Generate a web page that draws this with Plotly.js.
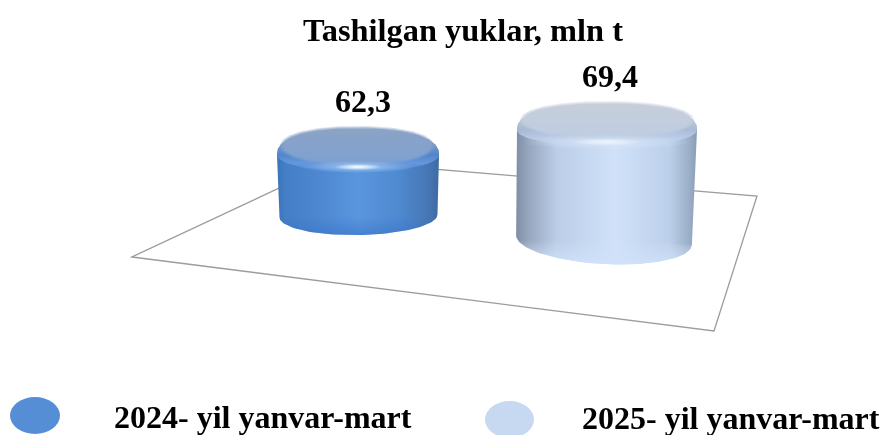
<!DOCTYPE html>
<html><head><meta charset="utf-8">
<script src="https://cdn.plot.ly/plotly-3.0.1.min.js"></script>
<style>html,body{margin:0;padding:0;background:#fff;overflow:hidden}#c{width:881px;height:435px}
.main-svg{filter:blur(0.35px)}</style>
</head><body><div id="c"></div>
<script>
// ---- data ----
const categories = ['2024- yil yanvar-mart', '2025- yil yanvar-mart'];
const values = [62.3, 69.4];
const chartTitle = 'Tashilgan yuklar, mln t';

// ---- scale of the pseudo-3D value axis ----
const FONT = '"Liberation Serif","Times New Roman",serif';
const valueFloor = 52.73, unit = 6.9;

// ---- styling of each cylinder ----
const looks = [
 {cx:358.5, topCx:358, labelX:363, base:216, rxTop:81, ryUp:26, ryDown:17, rxBase:79, ryBase:19, tilt:-1,
  faceCx:357, faceDy:-4, faceRx:73, faceRy:17, hlW:24, hlY:17, hlH:4,
  side:[[0,'#3b73b8'],[.05,'#437ec6'],[.25,'#4c87d0'],[.5,'#5a96de'],[.75,'#4f89d0'],[.93,'#4677b5'],[1,'#3f6aa2']],
  faceTop:'#8ba3c5', faceBottom:'#7ea1d2', bevel:'rgba(104,154,222,.9)', shoulder:'rgba(84,136,206,.85)',
  foot:'rgba(52,112,200,.5)', glow:'rgba(255,255,255,1)', glowSoft:'rgba(170,210,250,.85)'},
 {cx:604, topCx:607, labelX:610, base:240, rxTop:90, ryUp:26, ryDown:17, rxBase:88, ryBase:24, tilt:3.2,
  faceCx:607, faceDy:-5, faceRx:83, faceRy:16, hlW:36, hlY:17, hlH:5,
  side:[[0,'#7f90a8'],[.06,'#94a5bc'],[.22,'#bccde8'],[.55,'#d0e1f9'],[.85,'#bccfea'],[.96,'#9aadc6'],[1,'#8a9cb4']],
  faceTop:'#c6ced9', faceBottom:'#bfcde2', bevel:'rgba(188,205,232,.9)', shoulder:'rgba(172,190,218,.85)',
  foot:'rgba(208,225,249,.9)', glow:'rgba(236,244,255,1)', glowSoft:'rgba(222,234,250,.75)'}
];

// elliptical / super-elliptical arc, exponent 2 is a plain ellipse
function arc(cx, cy, rx, ry, tiltDeg, from, to, n, e) {
  const t = tiltDeg * Math.PI / 180, xs = [], ys = [], p = 2 / (e || 2);
  for (let i = 0; i <= n; i++) {
    const a = from + (to - from) * i / n;
    const c = Math.cos(a), s = Math.sin(a);
    const px = rx * Math.sign(c) * Math.pow(Math.abs(c), p), py = ry * Math.sign(s) * Math.pow(Math.abs(s), p);
    xs.push(cx + px * Math.cos(t) - py * Math.sin(t));
    ys.push(cy + px * Math.sin(t) + py * Math.cos(t));
  }
  return {x: xs, y: ys};
}
function join(a, b) { return {x: a.x.concat(b.x), y: a.y.concat(b.y)}; }
function poly(p, extra) {
  return Object.assign({type:'scatter', mode:'lines', x:p.x, y:p.y, fill:'toself',
    line:{width:0}, hoverinfo:'skip', showlegend:false}, extra);
}
function grad(type, scale, start, stop) {
  const g = {type:type, colorscale:scale};
  if (start !== undefined) { g.start = start; g.stop = stop; }
  return g;
}
function alpha(c, a) { return c.replace(/[\d.]+\)$/, a + ')'); }
function hexA(h, a) {
  const n = parseInt(h.slice(1), 16);
  return 'rgba(' + (n >> 16) + ',' + ((n >> 8) & 255) + ',' + (n & 255) + ',' + a + ')';
}

const traces = [];
values.forEach((v, i) => {
  const L = looks[i];
  const top = L.base - (v - valueFloor) * unit;   // value -> height of the cylinder
  const mid = top + 5;
  // side wall with rounded upper silhouette
  const foot = arc(L.cx, L.base, L.rxBase, L.ryBase, L.tilt, 0, Math.PI, 60);
  const back = arc(L.topCx, mid, L.rxTop, L.ryUp, 0, Math.PI, 2 * Math.PI, 80, 2.4);
  traces.push(poly(join(foot, back), {fillgradient: grad('horizontal', L.side, L.topCx - L.rxTop, L.topCx + L.rxTop)}));
  // front foot shading
  traces.push(poly(foot, {fillgradient: grad('vertical',
    [[0, alpha(L.foot, 0)], [1, L.foot]], L.base, L.base + L.ryBase)}));
  // rounded shoulder: face colour at the back, fading into the wall at the front
  const rimFront = arc(L.topCx, mid, L.rxTop, L.ryDown, 0, 0, Math.PI, 60);
  traces.push(poly(join(rimFront, back), {fillgradient: grad('vertical',
    [[0, hexA(L.faceTop, 1)], [.32, hexA(L.faceTop, .95)], [.6, L.shoulder], [.8, L.bevel], [1, alpha(L.bevel, 0)]],
    mid - L.ryUp, mid + L.ryDown)}));
  // top face with a feathered edge
  const fy = top + L.faceDy;
  const faceGrad = a => grad('vertical', [[0, hexA(L.faceTop, a)], [1, hexA(L.faceBottom, a)]], fy - L.faceRy, fy + L.faceRy);
  [[4, 3, .3], [2.5, 2, .45], [1, 1, .65], [0, 0, 1]].forEach(f => {
    traces.push(poly(arc(L.faceCx, fy, L.faceRx + f[0], L.faceRy + f[1], 0, 0, 2 * Math.PI, 120, 2.2),
      {fillgradient: faceGrad(f[2])}));
  });
  // specular highlight
  const hy = top + L.hlY;
  traces.push(poly(arc(L.topCx, hy, L.hlW * 2.4, L.hlH * 1.5, 0, 0, 2 * Math.PI, 80), {
    fillgradient: grad('radial', [[0, L.glowSoft], [1, alpha(L.glowSoft, 0)]])}));
  traces.push(poly(arc(L.topCx, hy, L.hlW, L.hlH * .8, 0, 0, 2 * Math.PI, 60), {
    fillgradient: grad('radial', [[0, L.glow], [1, alpha(L.glow, 0)]])}));
});

// value labels above each cylinder
traces.push({type:'scatter', mode:'text',
  x: looks.map(L => L.labelX),
  y: values.map((v, i) => looks[i].base - (v - valueFloor) * unit - 46),
  text: values.map(v => String(v).replace('.', ',')),
  textposition:'middle center',
  textfont:{family:FONT, size:32, color:'#000', weight:700},
  hoverinfo:'skip', showlegend:false});

const legendColors = ['#558ed5', '#c6d9f1'];
const shapes = [
  {type:'path', layer:'below', path:'M 132 257 L 714 331 L 757 196 L 337 161 Z',
   line:{color:'#9c9c9c', width:1.3}, fillcolor:'rgba(0,0,0,0)'},
  {type:'circle', x0:10, x1:60, y0:397, y1:434, fillcolor:legendColors[0], line:{width:0}},
  {type:'circle', x0:485, x1:534, y0:401, y1:438, fillcolor:legendColors[1], line:{width:0}}
];
const annotations = [
  {x:112, y:417, text:'<b>'+categories[0]+'</b>', xanchor:'left', yanchor:'middle', showarrow:false,
   font:{family:FONT, size:32, color:'#000'}},
  {x:580, y:418, text:'<b>'+categories[1]+'</b>', xanchor:'left', yanchor:'middle', showarrow:false,
   font:{family:FONT, size:32, color:'#000'}}
];

Plotly.newPlot('c', traces, {
  width:881, height:435, margin:{l:0,r:0,t:0,b:0},
  paper_bgcolor:'#fff', plot_bgcolor:'rgba(0,0,0,0)', showlegend:false,
  title:{text:'<b>'+chartTitle+'</b>', x:463/881, xanchor:'center', y:1-30/435, yanchor:'middle',
         font:{family:FONT, size:32.4, color:'#000'}},
  xaxis:{range:[0,881], visible:false, fixedrange:true},
  yaxis:{range:[435,0], visible:false, fixedrange:true},
  shapes:shapes, annotations:annotations
}, {displayModeBar:false, staticPlot:true});
</script></body></html>
